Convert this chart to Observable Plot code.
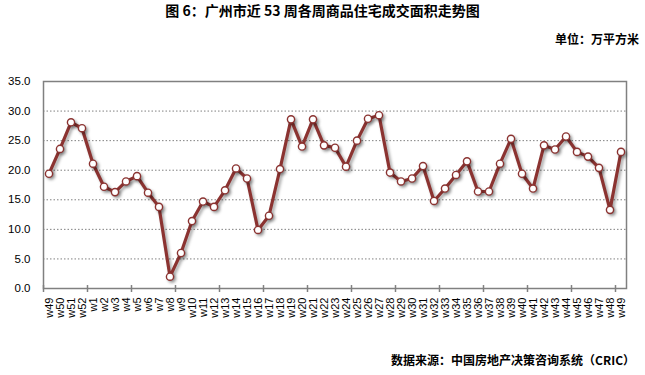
<!DOCTYPE html>
<html><head><meta charset="utf-8">
<script src="https://cdn.jsdelivr.net/npm/d3@7"></script>
<script src="https://cdn.jsdelivr.net/npm/@observablehq/plot@0.6"></script>
<style>
body{margin:0;background:#fff;}
#wrap{position:relative;width:645px;height:375px;font-family:"Noto Sans CJK SC","Liberation Sans",sans-serif;}
.t{position:absolute;font-weight:bold;color:#000;white-space:nowrap;line-height:1;}
</style></head>
<body><div id="wrap">
<div class="t" id="title" style="left:0;width:645px;text-align:center;top:3px;font-size:14px;">图 6：广州市近 53 周各周商品住宅成交面积走势图</div>
<div class="t" id="unit" style="right:6px;top:33px;font-size:12px;">单位：万平方米</div>
<div class="t" id="src" style="right:10px;top:354px;font-size:12px;">数据来源：中国房地产决策咨询系统（CRIC）</div>
</div>
<script>
const weeks = ["w49","w50","w51","w52","w1","w2","w3","w4","w5","w6","w7","w8","w9","w10","w11","w12","w13","w14","w15","w16","w17","w18","w19","w20","w21","w22","w23","w24","w25","w26","w27","w28","w29","w30","w31","w32","w33","w34","w35","w36","w37","w38","w39","w40","w41","w42","w43","w44","w45","w46","w47","w48","w49"];
const values = [19.4,23.6,28.1,27.1,21.1,17.2,16.3,18.1,19.0,16.2,13.8,2.0,6.0,11.4,14.7,13.8,16.6,20.3,18.6,9.9,12.3,20.2,28.6,24.0,28.6,24.2,23.8,20.6,25.0,28.7,29.3,19.6,18.1,18.6,20.7,14.8,16.9,19.2,21.5,16.4,16.4,21.1,25.3,19.4,16.9,24.2,23.5,25.7,23.1,22.3,20.4,13.3,23.1];
const yTicks = [0,5,10,15,20,25,30,35];
const grid = [5,10,15,20,25,30];

const data = values.map((v,i)=>({i, week: weeks[i], v}));
const boundaryTicks = d3.range(-0.5, weeks.length, 4);
const red = "#8B3331";

const chart = Plot.plot({
  width: 645, height: 375,
  marginTop: 81, marginBottom: 87, marginLeft: 43, marginRight: 19,
  style: {fontSize: "11px", fontFamily: "'Liberation Sans', Arial, sans-serif", color: "#000", background: "#fff"},
  x: {domain: [-0.5, weeks.length - 0.5], axis: null, label: null},
  y: {domain: [0, 35], axis: null, label: null},
  marks: [
    Plot.ruleY(grid, {stroke: "#808080", strokeDasharray: "1.5,2", strokeWidth: 1}),
    Plot.frame({stroke: "#808080", strokeWidth: 1.5}),
    Plot.ruleX(boundaryTicks, {y1: 0, y2: 0.5, stroke: "#808080", strokeWidth: 1.5}),
    Plot.axisX(boundaryTicks, {tickSize: 4, tickFormat: () => "", label: null, stroke: "#808080", strokeWidth: 1.5}),
    Plot.axisX(d3.range(weeks.length), {tickSize: 0, tickPadding: 9, tickRotate: -90, label: null, tickFormat: i => weeks[i], fill: "#000"}),
    Plot.axisY(yTicks, {tickSize: 0, tickPadding: 13, label: null, tickFormat: d => d.toFixed(1), fill: "#000", fontSize: 11.5}),
    Plot.line(data, {x: "i", y: "v", stroke: red, strokeWidth: 3.2}),
    Plot.dot(data, {x: "i", y: "v", r: 3.6, fill: "#fff", stroke: red, strokeWidth: 1.4})
  ]
});
chart.style.position = "absolute";
chart.style.left = "0"; chart.style.top = "0";
const wrap = document.getElementById("wrap");
wrap.insertBefore(chart, wrap.firstChild);
chart.querySelectorAll('g[aria-label="line"], g[aria-label="dot"]').forEach(g => {
  g.style.filter = "drop-shadow(2px 2px 1.5px rgba(0,0,0,0.35))";
});
</script>
</body></html>
